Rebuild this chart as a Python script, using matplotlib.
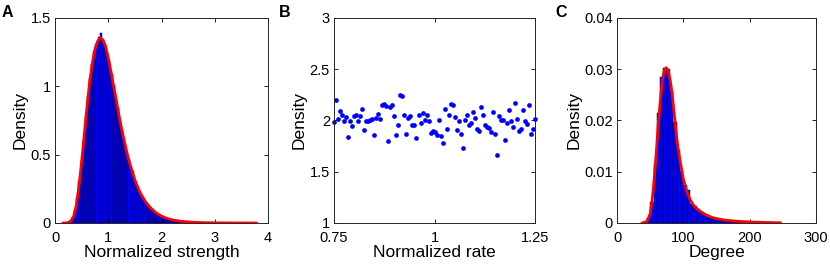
import matplotlib
matplotlib.use("Agg")
import matplotlib.pyplot as plt
import numpy as np

plt.rcParams["font.family"] = ["Liberation Sans", "DejaVu Sans"]

# ---- panel A: normalized strength histogram + fitted curve ----
strength_bin_start, strength_bin_width = 0.20, 0.04
strength_density = [
    0.002, 0.006, 0.016, 0.042, 0.095, 0.18, 0.31, 0.46, 0.61, 0.78,
    0.93, 1.06, 1.16, 1.26, 1.31, 1.36, 1.39, 1.34, 1.31, 1.25,
    1.18, 1.09, 1.01, 0.91, 0.84, 0.74, 0.68, 0.60, 0.53, 0.47,
    0.42, 0.38, 0.31, 0.28, 0.23, 0.20, 0.18, 0.15, 0.13, 0.115,
    0.10, 0.085, 0.073, 0.064, 0.053, 0.047, 0.040, 0.034, 0.030, 0.025,
    0.021, 0.019, 0.016, 0.013, 0.011, 0.010, 0.008, 0.007, 0.006, 0.005,
]
strength_fit_x = [0.15, 0.20, 0.25, 0.30, 0.35, 0.40, 0.45, 0.50, 0.55, 0.60,
                  0.65, 0.70, 0.75, 0.80, 0.85, 0.90, 0.95, 1.00, 1.05, 1.10,
                  1.15, 1.20, 1.25, 1.30, 1.35, 1.40, 1.45, 1.50, 1.55, 1.60,
                  1.70, 1.80, 1.90, 2.00, 2.10, 2.20, 2.35, 2.50, 2.75, 3.00,
                  3.40, 3.78]
strength_fit_y = [0.0, 0.0005, 0.004, 0.015, 0.05, 0.13, 0.27, 0.45, 0.65, 0.85,
                  1.03, 1.17, 1.27, 1.33, 1.355, 1.34, 1.29, 1.21, 1.11, 1.00,
                  0.90, 0.79, 0.69, 0.60, 0.515, 0.44, 0.375, 0.315, 0.265, 0.22,
                  0.155, 0.108, 0.074, 0.050, 0.034, 0.023, 0.013, 0.0075, 0.003, 0.0012,
                  0.0003, 0.0001]

# ---- panel B: density vs normalized rate ----
rate_lo, rate_hi = 0.75, 1.25
rate_density = [
    1.985, 2.200, 2.018, 2.091, 2.051, 1.992, 2.038, 1.836, 1.992, 1.942,
    2.041, 2.051, 1.998, 2.041, 2.117, 1.909, 1.992, 1.992, 2.008, 2.018,
    1.860, 2.025, 2.064, 2.018, 2.147, 2.157, 2.140, 1.800, 2.131, 2.150,
    2.041, 1.860, 1.952, 2.246, 2.236, 2.051, 1.869, 2.025, 2.045, 1.959,
    1.959, 1.826, 2.058, 1.972, 2.071, 2.008, 2.051, 1.998, 1.876, 1.893,
    1.886, 1.860, 2.002, 1.853, 1.777, 2.111, 1.916, 2.058, 2.157, 2.150,
    2.031, 1.909, 1.992, 1.866, 1.734, 2.008, 2.058, 1.952, 1.972, 2.081,
    2.025, 1.919, 1.902, 2.131, 2.051, 1.959, 1.932, 1.926, 1.886, 2.084,
    1.866, 1.668, 2.041, 2.008, 2.002, 1.813, 1.979, 2.101, 1.998, 1.932,
    2.174, 2.018, 1.899, 1.916, 2.107, 1.992, 1.965, 2.147, 1.869, 1.919,
    2.018,
]

# ---- panel C: degree histogram + fitted curve ----
degree_bin_start, degree_bin_width = 40, 5
degree_density = [
    0.0001, 0.0010, 0.0040, 0.0115, 0.0215, 0.0285, 0.0303, 0.0300, 0.0258, 0.0198,
    0.0143, 0.0102, 0.0075, 0.0065, 0.0037, 0.0033, 0.0028, 0.0022, 0.0018, 0.0015,
    0.0012, 0.0010, 0.0008, 0.0007, 0.0005, 0.0004, 0.0004, 0.0003, 0.0003, 0.0002,
    0.0002, 0.0002, 0.0001, 0.0001, 0.0001, 0.0001, 0.0001, 0.00005, 0.00005, 0.00005,
    0.00005,
]
degree_fit_x = [38, 45, 50, 53, 56, 59, 62, 65, 68, 71, 74, 77, 80, 83, 86, 89,
                92, 95, 100, 105, 110, 115, 120, 125, 135, 145, 160, 175, 200,
                225, 246]
degree_fit_y = [0.0, 0.0003, 0.0018, 0.0045, 0.0085, 0.0135, 0.0190, 0.0235,
                0.0275, 0.0297, 0.0303, 0.0298, 0.0280, 0.0253, 0.0215, 0.0178,
                0.0145, 0.0122, 0.0085, 0.0062, 0.0046, 0.0035, 0.0028, 0.0023,
                0.0015, 0.0010, 0.0006, 0.0004, 0.0002, 0.0001, 0.00005]

BLUE = "#0000ff"
RED = "#ff0000"
TICK_FS = 10.5
LABEL_FS = 12.5


def style(ax):
    ax.tick_params(direction="in", top=True, right=True, length=3,
                   width=0.6, labelsize=TICK_FS, pad=3)
    ax.tick_params(axis="x", pad=6)
    for s in ax.spines.values():
        s.set_linewidth(0.7)
        s.set_color("#262626")


def hist_bars(ax, start, width, heights):
    edges = start + width * np.arange(len(heights))
    ax.bar(edges, heights, width=width, align="edge", color=BLUE,
           edgecolor="#00004d", linewidth=0.35, zorder=1)


fig = plt.figure(figsize=(8.3, 2.67), dpi=100)
ax_a = fig.add_axes([0.0663, 0.1648, 0.2566, 0.7678])
ax_b = fig.add_axes([0.4025, 0.1648, 0.2422, 0.7678])
ax_c = fig.add_axes([0.7434, 0.1648, 0.2398, 0.7678])

# A
hist_bars(ax_a, strength_bin_start, strength_bin_width, strength_density)
ax_a.plot(strength_fit_x, strength_fit_y, color=RED, lw=2.0, zorder=3)
ax_a.set_xlim(0, 4)
ax_a.set_ylim(0, 1.5)
ax_a.set_xticks([0, 1, 2, 3, 4])
ax_a.set_yticks([0, 0.5, 1, 1.5])
ax_a.set_yticklabels(["0", "0.5", "1", "1.5"])
ax_a.set_xlabel("Normalized strength", fontsize=LABEL_FS, labelpad=0)
ax_a.set_ylabel("Density", fontsize=LABEL_FS, labelpad=2)
style(ax_a)

# B
rate = np.linspace(rate_lo, rate_hi, len(rate_density))
ax_b.plot(rate, rate_density, "o", color=BLUE, markersize=3.4,
          markeredgewidth=0, clip_on=False)
ax_b.set_xlim(0.75, 1.25)
ax_b.set_ylim(1, 3)
ax_b.set_xticks([0.75, 1, 1.25])
ax_b.set_xticklabels(["0.75", "1", "1.25"])
ax_b.set_yticks([1, 1.5, 2, 2.5, 3])
ax_b.set_yticklabels(["1", "1.5", "2", "2.5", "3"])
ax_b.set_xlabel("Normalized rate", fontsize=LABEL_FS, labelpad=0)
ax_b.set_ylabel("Density", fontsize=LABEL_FS, labelpad=2)
style(ax_b)

# C
hist_bars(ax_c, degree_bin_start, degree_bin_width, degree_density)
ax_c.plot(degree_fit_x, degree_fit_y, color=RED, lw=2.0, zorder=3)
ax_c.set_xlim(0, 300)
ax_c.set_ylim(0, 0.04)
ax_c.set_xticks([0, 100, 200, 300])
ax_c.set_yticks([0, 0.01, 0.02, 0.03, 0.04])
ax_c.set_yticklabels(["0", "0.01", "0.02", "0.03", "0.04"])
ax_c.set_xlabel("Degree", fontsize=LABEL_FS, labelpad=0)
ax_c.set_ylabel("Density", fontsize=LABEL_FS, labelpad=2)
style(ax_c)

for letter, x in (("A", 2), ("B", 279), ("C", 555)):
    fig.text(x / 830, 1 - 5 / 267, letter, fontsize=11.5, fontweight="bold",
             ha="left", va="top")

fig.savefig("out.png", dpi=100)
